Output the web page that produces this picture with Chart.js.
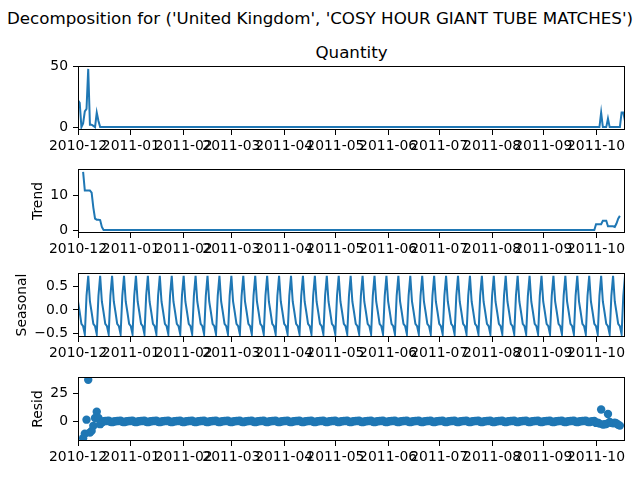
<!DOCTYPE html>
<html>
<head>
<meta charset="utf-8">
<script src="https://cdn.jsdelivr.net/npm/chart.js@4.4.1/dist/chart.umd.min.js"></script>
<style>
  html, body { margin: 0; padding: 0; background: #fff; }
  #fig { position: relative; width: 640px; height: 480px; overflow: hidden; font-family: "DejaVu Sans", sans-serif; }
  #fig canvas { position: absolute; left: 0; }
  .txt { position: absolute; white-space: nowrap; transform: translateX(-50%); color: #000; font-size: 16.7px; line-height: 20px; }
</style>
</head>
<body>
<div id="fig">
  <div class="txt" style="left:320px; top:8px;">Decomposition for ('United Kingdom', 'COSY HOUR GIANT TUBE MATCHES')</div>
  <div class="txt" style="left:351.5px; top:42px;">Quantity</div>
  <canvas id="observed" width="640" height="106" style="top:58px"></canvas>
  <canvas id="trend" width="640" height="106" style="top:161px"></canvas>
  <canvas id="seasonal" width="640" height="106" style="top:265px"></canvas>
  <canvas id="resid" width="640" height="106" style="top:369px"></canvas>
</div>
<script>
// day 0 = 2010-12-01 (a Wednesday), last day = 2011-10-18
const lastDay = 321;
const monthTickDays = [0, 31, 62, 90, 121, 151, 182, 212, 243, 273, 304];
const monthTickLabels = ['2010-12', '2011-01', '2011-02', '2011-03', '2011-04', '2011-05',
  '2011-06', '2011-07', '2011-08', '2011-09', '2011-10'];

// observed quantity: first two weeks and last weeks, nothing sold in between
const quantityHead = [22, 20, 0, 3, 13, 15, 48, 2, 2, 1, 0, 12, 5, 0];          // days 0-13
const quantityTail = [0, 0, 0, 12, 0, 0, 0, 7, 0, 0, 0, 0, 0, 0, 0, 12, 12, 5]; // days 304-321

// trend (7 day centred mean, missing for first/last 3 days)
const trendHead = [16.8, 11.4, 11.4, 11.4, 11.4, 10.8, 6.5, 3.3, 3.0, 3.0, 2.9, 0.9, 0]; // days 3-15
const trendTail = [0, 0, 0, 0, 1.7, 1.7, 1.7, 1.7, 2.7, 2.7, 2.7, 1.1, 1.1, 1.1, 1.1,
  0.9, 1.9, 3.3, 4.1];                                                               // days 300-318

// seasonal component, one value per weekday starting Wednesday
const seasonalByWeekday = [0.18, -0.05, -0.3, -0.35, -0.52, 0.3, 0.73];

// residuals where something was sold
const residHead = [-15, -11, 1.5, 37, -10, -8.5, -4, 3, 8.5, 3, -2.5, -1];          // days 3-14
const residTail = [-1.4, -1.1, -2.0, 10.5, -2.9, -2.6, -2.4, 6.5, -0.6, -1.4, -1.8,
  -1.1, -1.9, -3.0, -3.8];                                                          // days 304-318

const quantityTicks = [0, 50];
const trendTicks = [0, 10];
const seasonalTicks = [-0.5, 0, 0.5];
const residTicks = [0, 25];

const BLUE = '#1f77b4';
Chart.defaults.font.family = "'DejaVu Sans', sans-serif";
Chart.defaults.font.size = 13.9;
Chart.defaults.color = '#000';

const days = [];
for (let d = 0; d <= lastDay; d++) days.push(d);

const seasonalAt = (d) => seasonalByWeekday[d % 7];

const quantityPts = days.map((d) => ({
  x: d,
  y: d < 14 ? quantityHead[d] : d >= 304 ? quantityTail[d - 304] : 0
}));

const trendPts = [];
const residPts = [];
for (const d of days) {
  if (d < 3 || d > 318) continue;
  let t = 0;
  if (d <= 15) t = trendHead[d - 3];
  else if (d >= 300) t = trendTail[d - 300];
  trendPts.push({ x: d, y: t });

  // between the sales, observed and trend are both 0, so resid = -seasonal
  let r = -seasonalAt(d);
  if (d <= 14) r = residHead[d - 3];
  else if (d >= 304) r = residTail[d - 304];
  residPts.push({ x: d, y: r });
}

const seasonalPts = days.map((d) => ({ x: d, y: seasonalAt(d) }));

const frame = {
  id: 'frame',
  afterDraw(chart) {
    const { ctx, chartArea: a } = chart;
    ctx.save();
    ctx.strokeStyle = '#000';
    ctx.lineWidth = 1;
    ctx.strokeRect(Math.round(a.left) + 0.5, Math.round(a.top) + 0.5,
      Math.round(a.right - a.left) - 1, Math.round(a.bottom - a.top) - 1);
    ctx.restore();
  }
};

function makePanel(id, dataset, yMin, yMax, yTicks, fmt, yTitle, titlePad) {
  new Chart(document.getElementById(id), {
    type: 'line',
    data: { datasets: [dataset] },
    options: {
      responsive: false,
      animation: false,
      events: [],
      layout: { padding: { top: 8, right: 15, left: 0, bottom: 0 } },
      plugins: { legend: { display: false }, tooltip: { enabled: false } },
      scales: {
        x: {
          type: 'linear',
          min: 0,
          max: lastDay,
          border: { display: false },
          grid: { drawOnChartArea: false, drawTicks: true, tickLength: 5, color: '#000' },
          ticks: {
            autoSkip: false, maxRotation: 0, minRotation: 0, padding: 3,
            callback: (v) => monthTickLabels[monthTickDays.indexOf(v)] ?? ''
          },
          afterBuildTicks: (s) => { s.ticks = monthTickDays.map((v) => ({ value: v })); },
          afterFit: (s) => { s.height = 34; s.paddingLeft = 0; s.paddingRight = 0; }
        },
        y: {
          min: yMin,
          max: yMax,
          border: { display: false },
          grid: { drawOnChartArea: false, drawTicks: true, tickLength: 5, color: '#000' },
          ticks: { padding: 5, callback: fmt },
          afterBuildTicks: (s) => { s.ticks = yTicks.map((v) => ({ value: v })); },
          afterFit: (s) => { s.width = 78; s.paddingTop = 0; s.paddingBottom = 0; },
          title: {
            display: !!yTitle,
            text: yTitle || '',
            font: { size: 13.9 },
            padding: { top: titlePad, bottom: 0 }
          }
        }
      }
    },
    plugins: [frame]
  });
}

const intFmt = (v) => String(v);
const decFmt = (v) => (v < 0 ? '\u2212' : '') + Math.abs(v).toFixed(1);

const lineStyle = { borderColor: BLUE, backgroundColor: BLUE, borderWidth: 2, pointRadius: 0, tension: 0, fill: false };

makePanel('observed', { data: quantityPts, ...lineStyle }, -2.4, 50.4, quantityTicks, intFmt, '', 0);
makePanel('trend', { data: trendPts, ...lineStyle }, -0.84, 17.64, trendTicks, intFmt, 'Trend', 30);
makePanel('seasonal', { data: seasonalPts, ...lineStyle }, -0.58, 0.79, seasonalTicks, decFmt, 'Seasonal', 14);
makePanel('resid', {
  data: residPts, showLine: false, pointRadius: 4.2, pointBorderWidth: 0,
  pointBackgroundColor: BLUE, pointBorderColor: BLUE
}, -17.5, 39.5, residTicks, intFmt, 'Resid', 30);
</script>
</body>
</html>
